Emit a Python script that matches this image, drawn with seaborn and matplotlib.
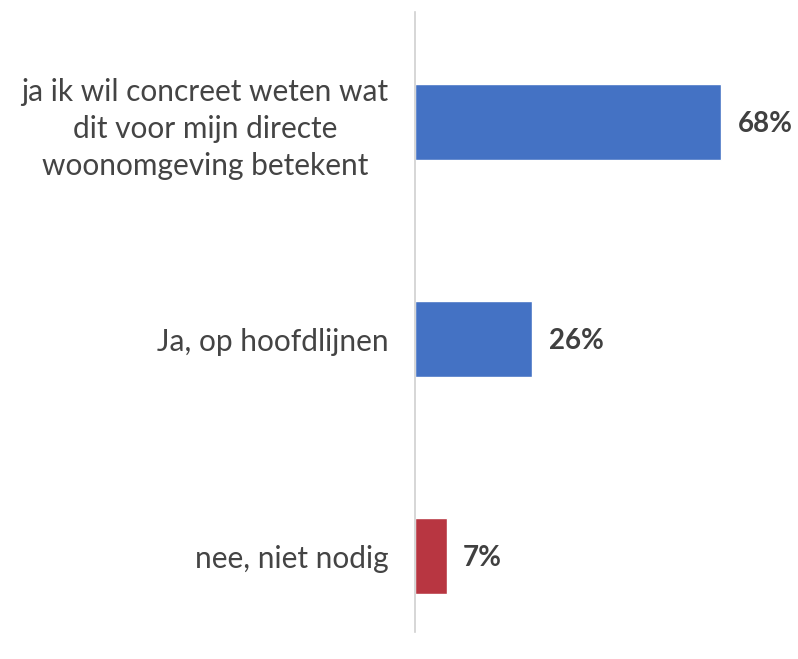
import matplotlib
matplotlib.use("Agg")
import matplotlib.pyplot as plt
import seaborn as sns
import pandas as pd

categories = [
    "ja ik wil concreet weten wat\ndit voor mijn directe\nwoonomgeving betekent",
    "Ja, op hoofdlijnen",
    "nee, niet nodig",
]
values = [68, 26, 7]
colors = ["#4472C4", "#4472C4", "#B83641"]

df = pd.DataFrame({"cat": categories, "val": values})

sns.set_style("white")
plt.rcParams["font.family"] = ["Lato", "DejaVu Sans"]

fig = plt.figure(figsize=(7.98, 6.59), dpi=100)
ax = fig.add_axes([415 / 798, 27 / 659, 375 / 798, 620 / 659])

sns.barplot(data=df, x="val", y="cat", hue="cat", palette=colors,
            orient="h", width=0.35, legend=False, ax=ax, saturation=1)

ax.set_xlim(0, 375 / 4.5)
ax.set_ylim(2 + 0.35, -0.507)
for s in ["top", "right", "bottom"]:
    ax.spines[s].set_visible(False)
ax.spines["left"].set_color("#d0d0d0")
ax.spines["left"].set_linewidth(1.2)
ax.set_xticks([])
ax.set_xlabel("")
ax.set_ylabel("")
ax.tick_params(axis="y", length=0, pad=19, labelsize=21.5, labelcolor="#444444")
for lbl in ax.get_yticklabels():
    lbl.set_multialignment("center")
    lbl.set_linespacing(1.4)

for i, v in enumerate(values):
    ax.text(v + 3.7, i + 0.01, f"{v}%", va="center", ha="left",
            fontsize=20, fontweight="bold", color="#404040")

fig.savefig("out.png", dpi=100)
